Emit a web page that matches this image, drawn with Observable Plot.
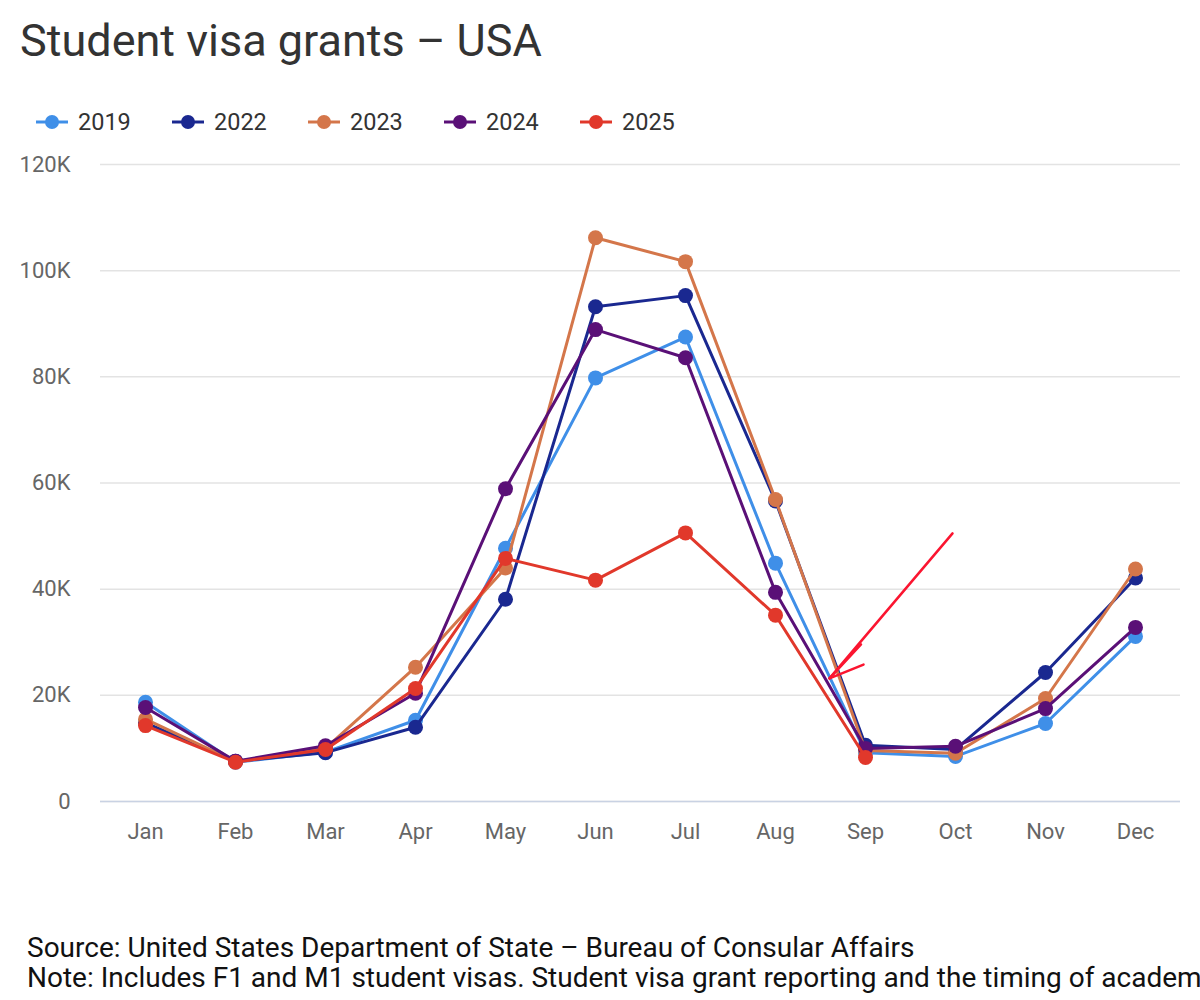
<!DOCTYPE html>
<html>
<head>
<meta charset="utf-8">
<script src="https://cdn.jsdelivr.net/npm/d3@7"></script>
<script src="https://cdn.jsdelivr.net/npm/@observablehq/plot@0.6"></script>
<style>
  body { margin: 0; background: #fff; font-family: Roboto, "Noto Sans", sans-serif; width: 1200px; height: 1000px; overflow: hidden; position: relative; }
  #title { position: absolute; left: 20px; top: 18px; font-size: 45px; line-height: 1; color: #333; white-space: nowrap; }
  #legend { position: absolute; left: 36px; top: 108px; height: 28px; display: flex; align-items: center; font-size: 23.5px; color: #333; }
  .item { display: flex; align-items: center; width: 136px; }
  .item svg { margin-right: 10px; }
  #chart { position: absolute; left: 0; top: 150px; }
  #footer { position: absolute; left: 27px; top: 933px; font-size: 28px; line-height: 30px; color: #111; white-space: nowrap; }
</style>
</head>
<body>
<div id="title">Student visa grants – USA</div>
<div id="legend"></div>
<div id="chart"></div>
<div id="footer">
  <div>Source: United States Department of State – Bureau of Consular Affairs</div>
  <div>Note: Includes F1 and M1 student visas. Student visa grant reporting and the timing of academ</div>
</div>
<script>
// Monthly student visa grants (F1 + M1)
const months = ["Jan", "Feb", "Mar", "Apr", "May", "Jun", "Jul", "Aug", "Sep", "Oct", "Nov", "Dec"];
const years = ["2019", "2022", "2023", "2024", "2025"];
const colors = ["#3f8fe8", "#1a2890", "#d4764a", "#5a1077", "#e1382b"];

const v2019 = [18700, 7400, 9300, 15300, 47700, 79800, 87500, 44900, 9200, 8500, 14700, 31100];
const v2022 = [14800, 7600, 9200, 14000, 38100, 93200, 95300, 56600, 10600, 9800, 24300, 42100];
const v2023 = [15500, 7500, 10000, 25300, 44000, 106200, 101700, 56900, 9600, 9100, 19400, 43800];
const v2024 = [17700, 7600, 10500, 20400, 58900, 88900, 83600, 39400, 10000, 10400, 17500, 32800];
const v2025 = [14300, 7400, 9800, 21300, 45800, 41700, 50600, 35100, 8300];

const yTicks = [0, 20000, 40000, 60000, 80000, 100000, 120000];

// Hand-drawn pointer toward the September drop (month index, value):
// shaft, one barb, and a retraced stroke near the tip
const annotation = [
  { x1: 8.967, y1: 50500, x2: 7.60, y2: 23200 },
  { x1: 7.60, y1: 23200, x2: 7.978, y2: 25800 },
  { x1: 7.60, y1: 23200, x2: 7.95, y2: 29600 }
];

const series = [v2019, v2022, v2023, v2024, v2025];
const rows = years.map((yr, k) => series[k].map((v, i) => ({ year: yr, m: i, v })));

// Legend
const legend = document.getElementById("legend");
years.forEach((yr, k) => {
  const item = document.createElement("div");
  item.className = "item";
  item.innerHTML = `<svg width="32" height="16"><line x1="0" x2="32" y1="8" y2="8" stroke="${colors[k]}" stroke-width="3"/><circle cx="16" cy="8" r="7" fill="${colors[k]}"/></svg><span>${yr}</span>`;
  legend.appendChild(item);
});

const marks = [
  Plot.gridY(yTicks, { stroke: "#e3e3e3", strokeOpacity: 1, strokeWidth: 1.5 }),
  Plot.ruleY([0], { stroke: "#c9d2e3", strokeWidth: 1.5 }),
  Plot.axisY(yTicks, { tickSize: 0, tickPadding: 30, tickFormat: d => d === 0 ? "0" : d / 1000 + "K", fill: "#666", fontSize: 22 }),
  Plot.axisX(d3.range(12), { tickSize: 0, tickPadding: 22, tickFormat: i => months[i], fill: "#666", fontSize: 22 })
];
rows.forEach((r, k) => {
  marks.push(Plot.line(r, { x: "m", y: "v", stroke: colors[k], strokeWidth: 3 }));
  marks.push(Plot.dot(r, { x: "m", y: "v", r: 7.5, fill: colors[k] }));
});
marks.push(Plot.link(annotation, { x1: "x1", y1: "y1", x2: "x2", y2: "y2", stroke: "#fb1530", strokeWidth: 2.5, strokeLinecap: "round" }));

const chart = Plot.plot({
  width: 1200,
  height: 712,
  marginLeft: 100,
  marginRight: 20,
  marginTop: 14,
  marginBottom: 61,
  style: { fontFamily: "Roboto, sans-serif", background: "#fff", overflow: "visible" },
  x: { type: "linear", domain: [-0.5, 11.5], axis: null },
  y: { domain: [0, 120000], axis: null },
  marks
});
document.getElementById("chart").appendChild(chart);
</script>
</body>
</html>
